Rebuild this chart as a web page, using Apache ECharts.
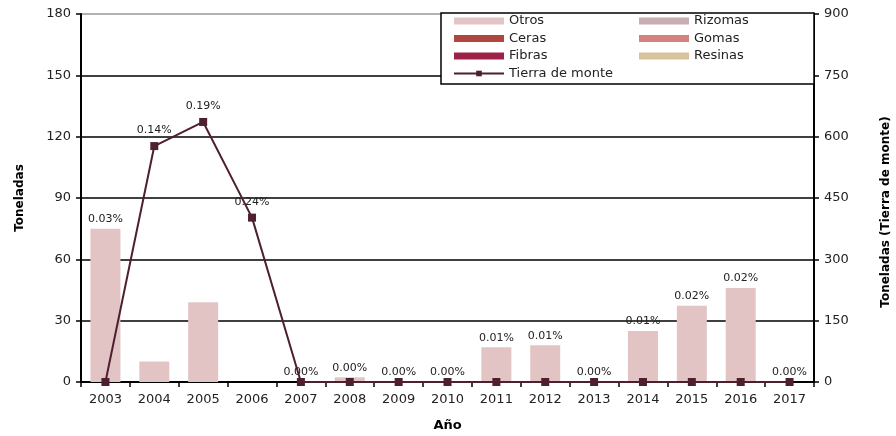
<!DOCTYPE html>
<html>
<head>
<meta charset="utf-8">
<script src="https://cdn.jsdelivr.net/npm/echarts@6/dist/echarts.min.js"></script>
<style>html,body{margin:0;padding:0;background:#fff}#c{width:896px;height:436px}</style>
</head>
<body>
<div id="c"></div>
<script>
const years = ['2003','2004','2005','2006','2007','2008','2009','2010','2011','2012','2013','2014','2015','2016','2017'];
const otros = [75, 10, 39, 0, 0, 2.3, 0, 0, 17, 18, 0, 25, 37.3, 46, 0];
const rizomas = [0,0,0,0,0,0,0,0,0,0,0,0,0,0,0];
const ceras = [0,0,0,0,0,0,0,0,0,0,0,0,0,0,0];
const gomas = [0,0,0,0,0,0,0,0,0,0,0,0,0,0,0];
const fibras = [0,0,0,0,0,0,0,0,0,0,0,0,0,0,0];
const resinas = [0,0,0,0,0,0,0,0,0,0,0,0,0,0,0];
const tierra = [0, 577, 636, 402, 0, 0, 0, 0, 0, 0, 0, 0, 0, 0, 0];
const pctLabels = ['0.03%','0.14%','0.19%','0.24%','0.00%','0.00%','0.00%','0.00%','0.01%','0.01%','0.00%','0.01%','0.02%','0.02%','0.00%'];
const leftTicks = {min: 0, max: 180, interval: 30};
const rightTicks = {min: 0, max: 900, interval: 150};
const rightAxisTitle = 'Toneladas (Tierra de monte)';

const FONT = 'DejaVu Sans';
const onLine = tierra.map((v, i) => v / rightTicks.max > otros[i] / leftTicks.max);

const chart = echarts.init(document.getElementById('c'));
const zeroBar = (name, data, color) => ({
  name, type: 'bar', stack: 'a', data, barWidth: 30, itemStyle: {color}, yAxisIndex: 0
});
const legendText = {fontFamily: FONT, fontSize: 13, color: '#222', lineHeight: 14};
chart.setOption({
  animation: false,
  textStyle: {fontFamily: FONT},
  grid: {left: 81, right: 82, top: 14, bottom: 54, outerBoundsMode: 'none', containLabel: false},
  graphic: [{
    type: 'rect', z: 50, shape: {x: 441, y: 13, width: 373, height: 71},
    style: {fill: '#fff', stroke: '#000', lineWidth: 1.5}
  }, {
    type: 'text', x: 886, y: 212, rotation: Math.PI / 2,
    style: {text: rightAxisTitle, fontFamily: FONT, fontWeight: 'bold', fontSize: 12, fill: '#000', align: 'center', verticalAlign: 'middle'}
  }],
  legend: [{
    z: 60, orient: 'vertical', left: 453, top: 14, padding: 0, itemWidth: 50, itemHeight: 7, itemGap: 3.5,
    textStyle: legendText,
    data: [{name: 'Otros', icon: 'rect'}, {name: 'Ceras', icon: 'rect'}, {name: 'Fibras', icon: 'rect'}, {name: 'Tierra de monte'}]
  }, {
    z: 60, orient: 'vertical', left: 639, top: 14, padding: 0, itemWidth: 50, itemHeight: 7, itemGap: 3.5,
    textStyle: legendText,
    data: [{name: 'Rizomas', icon: 'rect'}, {name: 'Gomas', icon: 'rect'}, {name: 'Resinas', icon: 'rect'}]
  }],
  xAxis: {
    type: 'category', data: years, boundaryGap: true,
    name: 'Año', nameLocation: 'middle', nameGap: 37,
    nameTextStyle: {fontFamily: FONT, fontWeight: 'bold', fontSize: 13, color: '#000'},
    axisLine: {lineStyle: {color: '#000', width: 2}},
    axisTick: {show: true, length: 5, lineStyle: {color: '#000', width: 1.5}},
    axisLabel: {fontFamily: FONT, fontSize: 13, color: '#222', margin: 11}
  },
  yAxis: [{
    type: 'value', min: leftTicks.min, max: leftTicks.max, interval: leftTicks.interval,
    name: 'Toneladas', nameLocation: 'middle', nameGap: 55, nameRotate: 90,
    nameTextStyle: {fontFamily: FONT, fontWeight: 'bold', fontSize: 12, color: '#000'},
    axisLine: {show: true, lineStyle: {color: '#000', width: 2}},
    axisTick: {show: true, length: 5, lineStyle: {color: '#000', width: 1.5}},
    axisLabel: {fontFamily: FONT, fontSize: 13, color: '#222', margin: 10},
    splitLine: {show: true, lineStyle: {color: ['#000','#000','#000','#000','#000','#000','#999'], width: 1.5}}
  }, {
    type: 'value', min: rightTicks.min, max: rightTicks.max, interval: rightTicks.interval,
    axisLine: {show: true, lineStyle: {color: '#000', width: 2}},
    axisTick: {show: true, length: 5, lineStyle: {color: '#000', width: 1.5}},
    axisLabel: {fontFamily: FONT, fontSize: 13, color: '#222', margin: 10},
    splitLine: {show: false}
  }],
  series: [
    {
      name: 'Otros', type: 'bar', stack: 'a', data: otros, barWidth: 30, yAxisIndex: 0,
      itemStyle: {color: '#e3c4c5'},
      label: {
        show: true, position: 'top', distance: 4, fontFamily: FONT, fontSize: 11, color: '#222',
        formatter: p => onLine[p.dataIndex] ? '' : pctLabels[p.dataIndex]
      }
    },
    zeroBar('Rizomas', rizomas, '#c8aeb3'),
    zeroBar('Ceras', ceras, '#b0463f'),
    zeroBar('Gomas', gomas, '#d4827f'),
    zeroBar('Fibras', fibras, '#9d2247'),
    zeroBar('Resinas', resinas, '#d7c29b'),
    {
      name: 'Tierra de monte', type: 'line', yAxisIndex: 1, data: tierra, z: 5,
      symbol: 'rect', symbolSize: 8,
      lineStyle: {color: '#4e1f2e', width: 2},
      itemStyle: {color: '#4e1f2e'},
      label: {
        show: true, position: 'top', distance: 6, fontFamily: FONT, fontSize: 11, color: '#222',
        formatter: p => onLine[p.dataIndex] ? pctLabels[p.dataIndex] : ''
      }
    }
  ]
});
</script>
</body>
</html>
